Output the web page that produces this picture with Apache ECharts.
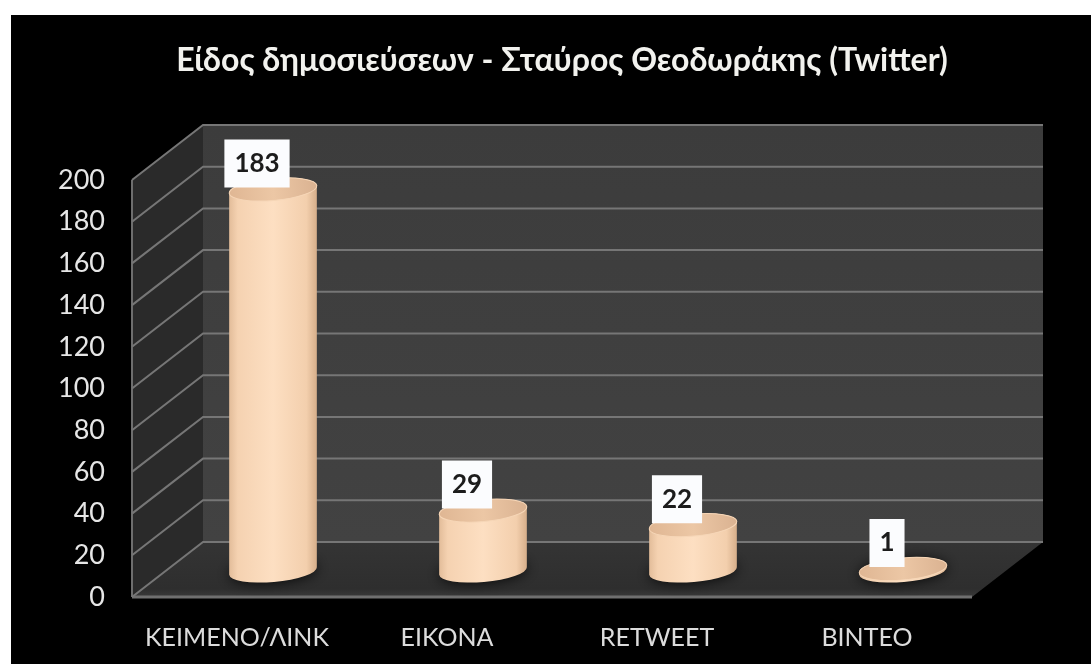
<!DOCTYPE html>
<html>
<head>
<meta charset="utf-8">
<title>Είδος δημοσιεύσεων</title>
<script src="https://cdn.jsdelivr.net/npm/echarts@6/dist/echarts.min.js"></script>
<style>
  html, body { margin: 0; padding: 0; background: #fff; }
  #chart { width: 1091px; height: 664px; }
</style>
</head>
<body>
<div id="chart"></div>
<script>
// Post types and counts
const chartTitle = 'Είδος δημοσιεύσεων - Σταύρος Θεοδωράκης (Twitter)';
const categories = ['ΚΕΙΜΕΝΟ/ΛΙΝΚ', 'ΕΙΚΟΝΑ', 'RETWEET', 'ΒΙΝΤΕΟ'];
const postCounts = [183, 29, 22, 1];
const yTicks = [0, 20, 40, 60, 80, 100, 120, 140, 160, 180, 200];

// Oblique projection used for the pseudo 3D box
const DEPTH = { x: 71, y: -55 };
const BAR_SHIFT = { x: 36, y: -26 };
const RX = 44, RY = 11, TILT = -5;
const FONT = 'Lato, "Open Sans", sans-serif';

const tiltRad = TILT * Math.PI / 180;
function rim(c, sign) {
  return [c[0] + sign * RX * Math.cos(tiltRad), c[1] + sign * RX * Math.sin(tiltRad)];
}

function renderPanels(params, api) {
  const s = params.coordSys;
  const l = s.x, r = s.x + s.width, t = s.y, b = s.y + s.height;
  const dx = DEPTH.x, dy = DEPTH.y;
  return {
    type: 'group',
    children: [
      { type: 'polygon', shape: { points: [[l + dx, t + dy], [r + dx, t + dy], [r + dx, b + dy], [l + dx, b + dy]] },
        style: { fill: { type: 'linear', x: 0, y: 0, x2: 0, y2: 1, colorStops: [
          { offset: 0, color: '#3c3c3c' }, { offset: 1, color: '#424242' }] } } },
      { type: 'polygon', shape: { points: [[l, t], [l + dx, t + dy], [l + dx, b + dy], [l, b]] },
        style: { fill: '#2a2a2a' } },
      { type: 'polygon', shape: { points: [[l, b], [l + dx, b + dy], [r + dx, b + dy], [r, b]] },
        style: { fill: { type: 'linear', x: 0, y: 0, x2: 0, y2: 1, colorStops: [
          { offset: 0, color: '#343434' }, { offset: 0.85, color: '#2e2e2e' }, { offset: 1, color: '#3a3a3a' }] } } },
      { type: 'line', shape: { x1: l, y1: t, x2: l, y2: b }, style: { stroke: '#6e6e6e', lineWidth: 2 } },
      { type: 'line', shape: { x1: l, y1: b, x2: r, y2: b }, style: { stroke: '#707070', lineWidth: 3 } }
    ]
  };
}

function renderGridLine(params, api) {
  const s = params.coordSys;
  const y = api.coord([0, api.value(1)])[1];
  return {
    type: 'polyline',
    shape: { points: [[s.x, y], [s.x + DEPTH.x, y + DEPTH.y], [s.x + s.width + DEPTH.x, y + DEPTH.y]] },
    style: { fill: 'none', stroke: '#767676', lineWidth: 2 }
  };
}

function renderCylinder(params, api) {
  const count = api.value(1);
  const front = api.coord([api.value(0), 0]);
  const frontTop = api.coord([api.value(0), count]);
  const base = [front[0] + BAR_SHIFT.x, front[1] + BAR_SHIFT.y];
  const top = [frontTop[0] + BAR_SHIFT.x, frontTop[1] + BAR_SHIFT.y];
  const bl = rim(base, -1), br = rim(base, 1), tl = rim(top, -1), tr = rim(top, 1);
  const arc = `A ${RX} ${RY} ${TILT} 0 0`;
  const body = `M ${tl[0]} ${tl[1]} L ${bl[0]} ${bl[1]} ${arc} ${br[0]} ${br[1]} L ${tr[0]} ${tr[1]} ${arc} ${tl[0]} ${tl[1]} Z`;
  const ellipse = (c) => ({ cx: c[0], cy: c[1], rx: RX, ry: RY });
  return {
    type: 'group',
    children: [
      { type: 'ellipse', shape: ellipse(base), rotation: -tiltRad, originX: base[0], originY: base[1],
        style: { fill: '#1c1c1c', shadowBlur: 14, shadowColor: 'rgba(0,0,0,0.9)' } },
      { type: 'path', shape: { pathData: body },
        style: { fill: { type: 'linear', x: 0, y: 0, x2: 1, y2: 0, colorStops: [
          { offset: 0, color: '#e2bc99' }, { offset: 0.1, color: '#f5d2b1' },
          { offset: 0.5, color: '#fddfc2' }, { offset: 0.88, color: '#f3cfad' },
          { offset: 1, color: '#d6ae8a' }] } } },
      { type: 'ellipse', shape: ellipse(top), rotation: -tiltRad, originX: top[0], originY: top[1],
        style: { fill: { type: 'linear', x: 0, y: 0, x2: 1, y2: 0, colorStops: [
          { offset: 0, color: '#dfb693' }, { offset: 0.5, color: '#ecc7a5' }, { offset: 1, color: '#dab291' }] },
          stroke: '#f6d6b7', lineWidth: 1 } },
      { type: 'text',
        style: { text: String(count), x: top[0] - 16, y: top[1] - 26, align: 'center', verticalAlign: 'middle',
          fill: '#1c1c1c', font: `bold 26px ${FONT}`, backgroundColor: '#fbfcfe', padding: [11, 10] } }
    ]
  };
}

const chart = echarts.init(document.getElementById('chart'), null, { renderer: 'canvas' });
chart.setOption({
  animation: false,
  backgroundColor: '#ffffff',
  graphic: [{ type: 'rect', z: -1, silent: true, shape: { x: 11, y: 15, width: 1080, height: 649 }, style: { fill: '#000' } }],
  title: {
    text: chartTitle, left: 557, top: 40, textAlign: 'center',
    textStyle: { color: '#f2f2ee', fontFamily: FONT, fontWeight: 'bold', fontSize: 32 }
  },
  grid: { left: 132, top: 180, width: 840, height: 417 },
  xAxis: {
    type: 'category', data: categories,
    axisLine: { show: false }, axisTick: { show: false },
    axisLabel: { color: '#dcdcdc', fontFamily: FONT, fontSize: 25, margin: 28, interval: 0 }
  },
  yAxis: {
    type: 'value', min: 0, max: 200, interval: 20,
    axisLine: { show: false }, axisTick: { show: false }, splitLine: { show: false },
    axisLabel: { color: '#e6e6e6', fontFamily: FONT, fontSize: 27, margin: 27 }
  },
  series: [
    { type: 'custom', name: 'panels', z: 1, silent: true, clip: false, renderItem: renderPanels,
      data: [[0, 0]], encode: { x: 0, y: 1 } },
    { type: 'custom', name: 'gridLines', z: 2, silent: true, clip: false, renderItem: renderGridLine,
      data: yTicks.map((v) => [0, v]), encode: { x: 0, y: 1 } },
    { type: 'custom', name: 'posts', z: 3, silent: true, clip: false, renderItem: renderCylinder,
      data: postCounts.map((v, i) => [i, v]), encode: { x: 0, y: 1 } }
  ]
});
</script>
</body>
</html>
